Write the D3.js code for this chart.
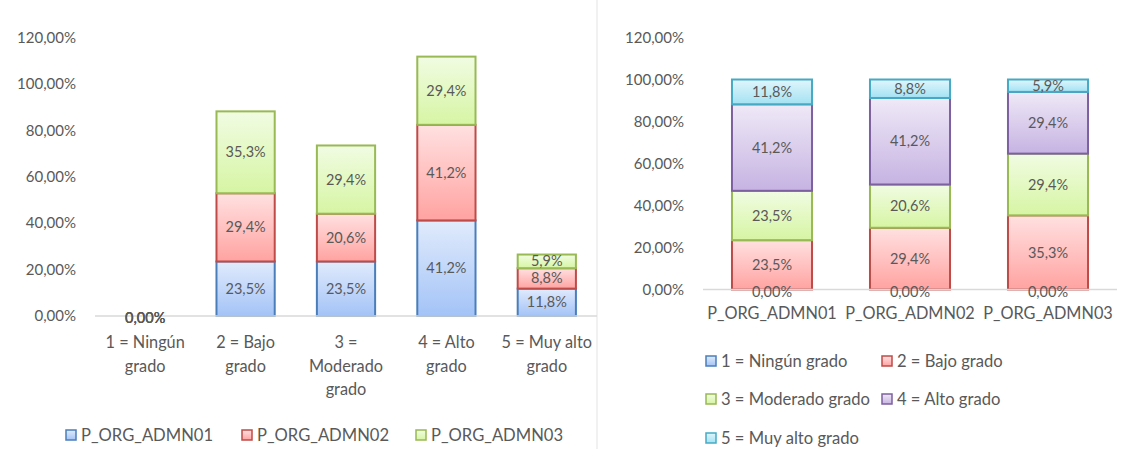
<!DOCTYPE html>
<html>
<head>
<meta charset="utf-8">
<script src="https://cdn.jsdelivr.net/npm/d3@7"></script>
<style>
  body { margin: 0; background: #fff; }
  text { font-family: Lato, "Open Sans", sans-serif; fill: #595959; }
</style>
</head>
<body>
<div id="view"></div>
<script>
var width = 1123, height = 449;

// left chart: grade categories, one series per item
var leftCategories = ["1 = Ningún\ngrado", "2 = Bajo\ngrado", "3 =\nModerado\ngrado", "4 = Alto\ngrado", "5 = Muy alto\ngrado"];
var leftSeriesNames = ["P_ORG_ADMN01", "P_ORG_ADMN02", "P_ORG_ADMN03"];
var admn01 = [0, 23.5, 23.5, 41.2, 11.8];
var admn02 = [0, 29.4, 20.6, 41.2, 8.8];
var admn03 = [0, 35.3, 29.4, 29.4, 5.9];

// right chart: items, one series per grade
var rightCategories = ["P_ORG_ADMN01", "P_ORG_ADMN02", "P_ORG_ADMN03"];
var rightSeriesNames = ["1 = Ningún grado", "2 = Bajo grado", "3 = Moderado grado", "4 = Alto grado", "5 = Muy alto grado"];
var grado1 = [0, 0, 0];
var grado2 = [23.5, 29.4, 35.3];
var grado3 = [23.5, 20.6, 29.4];
var grado4 = [41.2, 41.2, 29.4];
var grado5 = [11.8, 8.8, 5.9];

var yTicks = [0, 20, 40, 60, 80, 100, 120];

// excel-ish colours: border, top of gradient, bottom of gradient
var palette = {
	blue:   ["#4a7ebb", "#e1ebfc", "#a3c3f7"],
	red:    ["#be4b48", "#ffe1e1", "#ffa3a1"],
	green:  ["#98b954", "#f1fce3", "#d6f5a3"],
	purple: ["#7d60a0", "#efe9f7", "#c6b3e2"],
	cyan:   ["#46aac5", "#e0f6fc", "#a3e2f3"]
};

var svg = d3.select("#view").append("svg")
	.attr("width", width)
	.attr("height", height);

var defs = svg.append("defs");
Object.keys(palette).forEach(function(k) {
	var g = defs.append("linearGradient").attr("id", "grad-" + k)
		.attr("x1", 0).attr("y1", 0).attr("x2", 0).attr("y2", 1);
	g.append("stop").attr("offset", "0%").attr("stop-color", palette[k][1]);
	g.append("stop").attr("offset", "100%").attr("stop-color", palette[k][2]);
});

// divider between the two charts
svg.append("line")
	.attr("x1", 597).attr("x2", 597).attr("y1", 0).attr("y2", height)
	.style("stroke", "#e3e3e3").style("stroke-width", 1);

function fmt(v) {
	if (v == 0) return "0,00%";
	return v.toFixed(1).replace(".", ",") + "%";
}

function drawChart(opt) {
	var x = d3.scaleBand().domain(d3.range(opt.categories.length))
		.range([opt.x0, opt.x1]).paddingInner(0.42).paddingOuter(0.21);
	var y = d3.scaleLinear().domain([0, 120]).range([opt.y0, opt.y1]);

	var g = svg.append("g");

	// y labels
	g.selectAll(".ytick").data(yTicks).enter().append("text")
		.attr("x", opt.x0 - 19)
		.attr("y", function(d) { return y(d); })
		.attr("dy", "0.35em")
		.attr("text-anchor", "end")
		.style("font-size", "15px")
		.text(function(d) { return d.toFixed(2).replace(".", ",") + "%"; });

	// stack series
	var rows = opt.categories.map(function(c, i) {
		var r = { i: i };
		opt.series.forEach(function(s, j) { r[j] = s[i]; });
		return r;
	});
	var stack = d3.stack().keys(d3.range(opt.series.length))(rows);

	stack.forEach(function(layer, j) {
		var col = palette[opt.colors[j]];
		g.selectAll(".seg" + j).data(layer).enter().append("rect")
			.attr("x", function(d, i) { return x(i); })
			.attr("width", x.bandwidth())
			.attr("y", function(d) { return y(d[1]); })
			.attr("height", function(d) { return y(d[0]) - y(d[1]); })
			.style("fill", "url(#grad-" + opt.colors[j] + ")")
			.style("stroke", function(d) { return d[1] > d[0] ? col[0] : "none"; })
			.style("stroke-width", 2);
	});

	// axis line
	g.append("line")
		.attr("x1", opt.x0).attr("x2", opt.x1)
		.attr("y1", y(0)).attr("y2", y(0))
		.style("stroke", "#d9d9d9").style("stroke-width", 1.5);

	// data labels
	stack.forEach(function(layer, j) {
		g.selectAll(".lab" + j).data(layer).enter().append("text")
			.attr("x", function(d, i) { return x(i) + x.bandwidth() / 2; })
			.attr("y", function(d) { return (y(d[0]) + y(d[1])) / 2 + (d[1] > d[0] ? 0 : opt.zeroShift); })
			.attr("dy", "0.35em")
			.attr("text-anchor", "middle")
			.style("font-size", "14.5px")
			.text(function(d) { return fmt(d[1] - d[0]); });
	});

	// category labels
	opt.categories.forEach(function(c, i) {
		var t = g.append("text")
			.attr("x", x(i) + x.bandwidth() / 2)
			.attr("y", opt.catY)
			.attr("text-anchor", "middle")
			.style("font-size", "16.3px");
		c.split("\n").forEach(function(line, k) {
			t.append("tspan").attr("x", x(i) + x.bandwidth() / 2)
				.attr("dy", k == 0 ? 0 : 23.5).text(line);
		});
	});

	// legend
	opt.legend.forEach(function(it, j) {
		var col = palette[opt.colors[j]];
		g.append("rect")
			.attr("x", it[0]).attr("y", it[1] - 5)
			.attr("width", 10).attr("height", 10)
			.style("fill", "url(#grad-" + opt.colors[j] + ")")
			.style("stroke", col[0]).style("stroke-width", 1.5);
		g.append("text")
			.attr("x", it[0] + 15).attr("y", it[1])
			.attr("dy", "0.35em")
			.style("font-size", "16.6px")
			.text(opt.seriesNames[j]);
	});
}

drawChart({
	categories: leftCategories,
	series: [admn01, admn02, admn03],
	seriesNames: leftSeriesNames,
	colors: ["blue", "red", "green"],
	x0: 95, x1: 597, y0: 316, y1: 37.6,
	zeroShift: 2,
	catY: 348,
	legend: [[66, 435], [242, 435], [416, 435]]
});

drawChart({
	categories: rightCategories,
	series: [grado1, grado2, grado3, grado4, grado5],
	seriesNames: rightSeriesNames,
	colors: ["blue", "red", "green", "purple", "cyan"],
	x0: 703, x1: 1117, y0: 289.5, y1: 37.5,
	zeroShift: 2,
	catY: 319,
	legend: [[706, 361], [882, 361], [706, 399], [882, 399], [706, 438]]
});
</script>
</body>
</html>
